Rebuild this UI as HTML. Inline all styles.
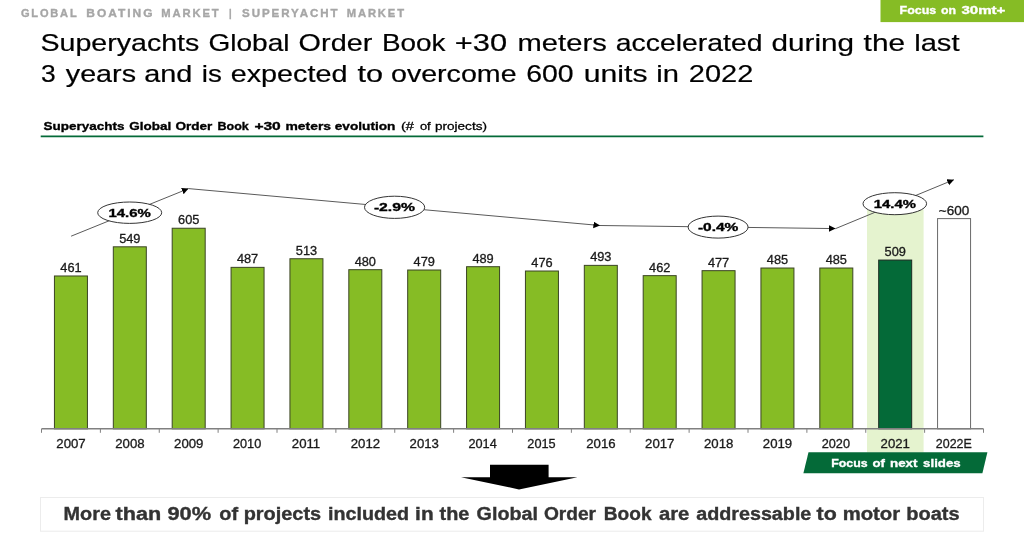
<!DOCTYPE html>
<html><head><meta charset="utf-8">
<style>
html,body{margin:0;padding:0;background:#fff;}
body{width:1024px;height:546px;overflow:hidden;position:relative;font-family:"Liberation Sans",sans-serif;}
svg{position:absolute;left:0;top:0;will-change:transform;}
text{font-family:"Liberation Sans",sans-serif;}
</style></head>
<body>
<svg width="1024" height="546" viewBox="0 0 1024 546">
<defs>
<marker id="ah" markerWidth="8" markerHeight="8" refX="6.6" refY="3.3" orient="auto" markerUnits="userSpaceOnUse">
<path d="M0,0 L6.6,3.3 L0,6.6 z" fill="#000"/>
</marker>
</defs>
<rect x="867" y="209.5" width="56.6" height="243.00" fill="#E5F3CF"/>
<rect x="54.44" y="275.98" width="33" height="152.82" fill="#86BC25" stroke="#3b4425" stroke-width="1"/>
<rect x="113.31" y="246.81" width="33" height="181.99" fill="#86BC25" stroke="#3b4425" stroke-width="1"/>
<rect x="172.19" y="228.24" width="33" height="200.56" fill="#86BC25" stroke="#3b4425" stroke-width="1"/>
<rect x="231.06" y="267.36" width="33" height="161.44" fill="#86BC25" stroke="#3b4425" stroke-width="1"/>
<rect x="289.94" y="258.74" width="33" height="170.06" fill="#86BC25" stroke="#3b4425" stroke-width="1"/>
<rect x="348.81" y="269.68" width="33" height="159.12" fill="#86BC25" stroke="#3b4425" stroke-width="1"/>
<rect x="407.69" y="270.01" width="33" height="158.79" fill="#86BC25" stroke="#3b4425" stroke-width="1"/>
<rect x="466.56" y="266.70" width="33" height="162.10" fill="#86BC25" stroke="#3b4425" stroke-width="1"/>
<rect x="525.44" y="271.01" width="33" height="157.79" fill="#86BC25" stroke="#3b4425" stroke-width="1"/>
<rect x="584.31" y="265.37" width="33" height="163.43" fill="#86BC25" stroke="#3b4425" stroke-width="1"/>
<rect x="643.19" y="275.65" width="33" height="153.15" fill="#86BC25" stroke="#3b4425" stroke-width="1"/>
<rect x="702.06" y="270.67" width="33" height="158.13" fill="#86BC25" stroke="#3b4425" stroke-width="1"/>
<rect x="760.94" y="268.02" width="33" height="160.78" fill="#86BC25" stroke="#3b4425" stroke-width="1"/>
<rect x="819.81" y="268.02" width="33" height="160.78" fill="#86BC25" stroke="#3b4425" stroke-width="1"/>
<rect x="878.69" y="260.07" width="33" height="168.73" fill="#046A38" stroke="#1c2a20" stroke-width="1"/>
<rect x="937.56" y="218.60" width="33" height="210.20" fill="#FFFFFF" stroke="#6a6a6a" stroke-width="1"/>
<line x1="41.5" y1="428.8" x2="983.5" y2="428.8" stroke="#808080" stroke-width="1.5"/>
<line x1="41.50" y1="428.8" x2="41.50" y2="432.8" stroke="#808080" stroke-width="1"/>
<line x1="100.38" y1="428.8" x2="100.38" y2="432.8" stroke="#808080" stroke-width="1"/>
<line x1="159.25" y1="428.8" x2="159.25" y2="432.8" stroke="#808080" stroke-width="1"/>
<line x1="218.12" y1="428.8" x2="218.12" y2="432.8" stroke="#808080" stroke-width="1"/>
<line x1="277.00" y1="428.8" x2="277.00" y2="432.8" stroke="#808080" stroke-width="1"/>
<line x1="335.88" y1="428.8" x2="335.88" y2="432.8" stroke="#808080" stroke-width="1"/>
<line x1="394.75" y1="428.8" x2="394.75" y2="432.8" stroke="#808080" stroke-width="1"/>
<line x1="453.62" y1="428.8" x2="453.62" y2="432.8" stroke="#808080" stroke-width="1"/>
<line x1="512.50" y1="428.8" x2="512.50" y2="432.8" stroke="#808080" stroke-width="1"/>
<line x1="571.38" y1="428.8" x2="571.38" y2="432.8" stroke="#808080" stroke-width="1"/>
<line x1="630.25" y1="428.8" x2="630.25" y2="432.8" stroke="#808080" stroke-width="1"/>
<line x1="689.12" y1="428.8" x2="689.12" y2="432.8" stroke="#808080" stroke-width="1"/>
<line x1="748.00" y1="428.8" x2="748.00" y2="432.8" stroke="#808080" stroke-width="1"/>
<line x1="806.88" y1="428.8" x2="806.88" y2="432.8" stroke="#808080" stroke-width="1"/>
<line x1="865.75" y1="428.8" x2="865.75" y2="432.8" stroke="#808080" stroke-width="1"/>
<line x1="924.62" y1="428.8" x2="924.62" y2="432.8" stroke="#808080" stroke-width="1"/>
<line x1="983.50" y1="428.8" x2="983.50" y2="432.8" stroke="#808080" stroke-width="1"/>
<line x1="71.1" y1="236.2" x2="188.5" y2="188.6" stroke="#5a5a5a" stroke-width="1" marker-end="url(#ah)"/>
<line x1="188.5" y1="188.6" x2="600" y2="225.5" stroke="#5a5a5a" stroke-width="1" marker-end="url(#ah)"/>
<line x1="600" y1="225.5" x2="835.6" y2="228.6" stroke="#5a5a5a" stroke-width="1" marker-end="url(#ah)"/>
<line x1="835.6" y1="228.6" x2="953.9" y2="179.7" stroke="#5a5a5a" stroke-width="1" marker-end="url(#ah)"/>
<ellipse cx="129.7" cy="212.7" rx="32" ry="10.7" fill="#fff" stroke="#333" stroke-width="1"/>
<ellipse cx="394.6" cy="207.3" rx="30.1" ry="11.1" fill="#fff" stroke="#333" stroke-width="1"/>
<ellipse cx="718.1" cy="227.1" rx="30" ry="11" fill="#fff" stroke="#333" stroke-width="1"/>
<ellipse cx="894.8" cy="203.7" rx="31.8" ry="11" fill="#fff" stroke="#333" stroke-width="1"/>
<polygon points="808.5,452.2 987.4,452.2 982.4,473.2 803.4,473.2" fill="#046A38"/>
<polygon points="490,464.8 548.6,464.8 548.6,477.3 577.5,477.3 519,489.4 461,477.3 490,477.3" fill="#000"/>
<rect x="880.5" y="0" width="143.5" height="22.1" fill="#86BC25"/>
<line x1="40.7" y1="136.3" x2="983.4" y2="136.3" stroke="#046A38" stroke-width="1.8"/>
<rect x="40.5" y="497.5" width="943" height="33.7" fill="#fff" stroke="#ececec" stroke-width="1"/>
<text x="20.90" y="17.10" font-size="10.8" font-weight="bold" fill="#A6A6A6" stroke="#A6A6A6" stroke-width="0.35" letter-spacing="1.8" textLength="57.62" lengthAdjust="spacingAndGlyphs">GLOBAL</text>
<text x="86.30" y="17.10" font-size="10.8" font-weight="bold" fill="#A6A6A6" stroke="#A6A6A6" stroke-width="0.35" letter-spacing="1.8" textLength="68.16" lengthAdjust="spacingAndGlyphs">BOATING</text>
<text x="161.30" y="17.10" font-size="10.8" font-weight="bold" fill="#A6A6A6" stroke="#A6A6A6" stroke-width="0.35" letter-spacing="1.8" textLength="59.26" lengthAdjust="spacingAndGlyphs">MARKET</text>
<text x="229.10" y="17.10" font-size="10.8" font-weight="bold" fill="#A6A6A6" stroke="#A6A6A6" stroke-width="0.35" letter-spacing="1.8" textLength="4.18" lengthAdjust="spacingAndGlyphs">|</text>
<text x="242.10" y="17.10" font-size="10.8" font-weight="bold" fill="#A6A6A6" stroke="#A6A6A6" stroke-width="0.35" letter-spacing="1.8" textLength="97.34" lengthAdjust="spacingAndGlyphs">SUPERYACHT</text>
<text x="346.70" y="17.10" font-size="10.8" font-weight="bold" fill="#A6A6A6" stroke="#A6A6A6" stroke-width="0.35" letter-spacing="1.8" textLength="59.26" lengthAdjust="spacingAndGlyphs">MARKET</text>
<text x="40.51" y="51.00" font-size="24" font-weight="normal" fill="#000" stroke="#000" stroke-width="0.2" textLength="158.77" lengthAdjust="spacingAndGlyphs">Superyachts</text>
<text x="208.53" y="51.00" font-size="24" font-weight="normal" fill="#000" stroke="#000" stroke-width="0.2" textLength="80.97" lengthAdjust="spacingAndGlyphs">Global</text>
<text x="298.60" y="51.00" font-size="24" font-weight="normal" fill="#000" stroke="#000" stroke-width="0.2" textLength="73.73" lengthAdjust="spacingAndGlyphs">Order</text>
<text x="382.04" y="51.00" font-size="24" font-weight="normal" fill="#000" stroke="#000" stroke-width="0.2" textLength="63.52" lengthAdjust="spacingAndGlyphs">Book</text>
<text x="454.82" y="51.00" font-size="24" font-weight="normal" fill="#000" stroke="#000" stroke-width="0.2" textLength="52.31" lengthAdjust="spacingAndGlyphs">+30</text>
<text x="517.58" y="51.00" font-size="24" font-weight="normal" fill="#000" stroke="#000" stroke-width="0.2" textLength="89.15" lengthAdjust="spacingAndGlyphs">meters</text>
<text x="615.82" y="51.00" font-size="24" font-weight="normal" fill="#000" stroke="#000" stroke-width="0.2" textLength="146.66" lengthAdjust="spacingAndGlyphs">accelerated</text>
<text x="771.56" y="51.00" font-size="24" font-weight="normal" fill="#000" stroke="#000" stroke-width="0.2" textLength="82.46" lengthAdjust="spacingAndGlyphs">during</text>
<text x="863.60" y="51.00" font-size="24" font-weight="normal" fill="#000" stroke="#000" stroke-width="0.2" textLength="41.47" lengthAdjust="spacingAndGlyphs">the</text>
<text x="914.19" y="51.00" font-size="24" font-weight="normal" fill="#000" stroke="#000" stroke-width="0.2" textLength="45.34" lengthAdjust="spacingAndGlyphs">last</text>
<text x="40.90" y="82.00" font-size="24" font-weight="normal" fill="#000" stroke="#000" stroke-width="0.2" textLength="14.70" lengthAdjust="spacingAndGlyphs">3</text>
<text x="65.80" y="82.00" font-size="24" font-weight="normal" fill="#000" stroke="#000" stroke-width="0.2" textLength="70.22" lengthAdjust="spacingAndGlyphs">years</text>
<text x="144.20" y="82.00" font-size="24" font-weight="normal" fill="#000" stroke="#000" stroke-width="0.2" textLength="48.16" lengthAdjust="spacingAndGlyphs">and</text>
<text x="201.74" y="82.00" font-size="24" font-weight="normal" fill="#000" stroke="#000" stroke-width="0.2" textLength="20.05" lengthAdjust="spacingAndGlyphs">is</text>
<text x="230.70" y="82.00" font-size="24" font-weight="normal" fill="#000" stroke="#000" stroke-width="0.2" textLength="116.78" lengthAdjust="spacingAndGlyphs">expected</text>
<text x="357.40" y="82.00" font-size="24" font-weight="normal" fill="#000" stroke="#000" stroke-width="0.2" textLength="25.49" lengthAdjust="spacingAndGlyphs">to</text>
<text x="391.01" y="82.00" font-size="24" font-weight="normal" fill="#000" stroke="#000" stroke-width="0.2" textLength="125.54" lengthAdjust="spacingAndGlyphs">overcome</text>
<text x="526.22" y="82.00" font-size="24" font-weight="normal" fill="#000" stroke="#000" stroke-width="0.2" textLength="47.44" lengthAdjust="spacingAndGlyphs">600</text>
<text x="583.74" y="82.00" font-size="24" font-weight="normal" fill="#000" stroke="#000" stroke-width="0.2" textLength="63.74" lengthAdjust="spacingAndGlyphs">units</text>
<text x="656.19" y="82.00" font-size="24" font-weight="normal" fill="#000" stroke="#000" stroke-width="0.2" textLength="22.64" lengthAdjust="spacingAndGlyphs">in</text>
<text x="688.89" y="82.00" font-size="24" font-weight="normal" fill="#000" stroke="#000" stroke-width="0.2" textLength="64.38" lengthAdjust="spacingAndGlyphs">2022</text>
<text x="43.50" y="129.90" font-size="11.5" font-weight="bold" fill="#000" stroke="#000" stroke-width="0.35" textLength="80.94" lengthAdjust="spacingAndGlyphs">Superyachts</text>
<text x="129.30" y="129.90" font-size="11.5" font-weight="bold" fill="#000" stroke="#000" stroke-width="0.35" textLength="41.92" lengthAdjust="spacingAndGlyphs">Global</text>
<text x="175.50" y="129.90" font-size="11.5" font-weight="bold" fill="#000" stroke="#000" stroke-width="0.35" textLength="36.89" lengthAdjust="spacingAndGlyphs">Order</text>
<text x="217.50" y="129.90" font-size="11.5" font-weight="bold" fill="#000" stroke="#000" stroke-width="0.35" textLength="31.33" lengthAdjust="spacingAndGlyphs">Book</text>
<text x="254.40" y="129.90" font-size="11.5" font-weight="bold" fill="#000" stroke="#000" stroke-width="0.35" textLength="26.40" lengthAdjust="spacingAndGlyphs">+30</text>
<text x="285.50" y="129.90" font-size="11.5" font-weight="bold" fill="#000" stroke="#000" stroke-width="0.35" textLength="45.57" lengthAdjust="spacingAndGlyphs">meters</text>
<text x="334.70" y="129.90" font-size="11.5" font-weight="bold" fill="#000" stroke="#000" stroke-width="0.35" textLength="60.75" lengthAdjust="spacingAndGlyphs">evolution</text>
<text x="400.90" y="129.90" font-size="11.5" font-weight="normal" fill="#000" stroke="#000" stroke-width="0.3" textLength="13.00" lengthAdjust="spacingAndGlyphs">(#</text>
<text x="419.90" y="129.90" font-size="11.5" font-weight="normal" fill="#000" stroke="#000" stroke-width="0.3" textLength="10.75" lengthAdjust="spacingAndGlyphs">of</text>
<text x="435.00" y="129.90" font-size="11.5" font-weight="normal" fill="#000" stroke="#000" stroke-width="0.3" textLength="51.93" lengthAdjust="spacingAndGlyphs">projects)</text>
<text x="899.60" y="14.20" font-size="11.5" font-weight="bold" fill="#fff" stroke="#fff" stroke-width="0.35" textLength="36.66" lengthAdjust="spacingAndGlyphs">Focus</text>
<text x="941.10" y="14.20" font-size="11.5" font-weight="bold" fill="#fff" stroke="#fff" stroke-width="0.35" textLength="15.07" lengthAdjust="spacingAndGlyphs">on</text>
<text x="961.40" y="14.20" font-size="11.5" font-weight="bold" fill="#fff" stroke="#fff" stroke-width="0.35" textLength="44.04" lengthAdjust="spacingAndGlyphs">30mt+</text>
<text x="831.20" y="467.30" font-size="11.5" font-weight="bold" fill="#fff" stroke="#fff" stroke-width="0.35" textLength="36.37" lengthAdjust="spacingAndGlyphs">Focus</text>
<text x="872.50" y="467.30" font-size="11.5" font-weight="bold" fill="#fff" stroke="#fff" stroke-width="0.35" textLength="12.44" lengthAdjust="spacingAndGlyphs">of</text>
<text x="890.00" y="467.30" font-size="11.5" font-weight="bold" fill="#fff" stroke="#fff" stroke-width="0.35" textLength="27.50" lengthAdjust="spacingAndGlyphs">next</text>
<text x="923.10" y="467.30" font-size="11.5" font-weight="bold" fill="#fff" stroke="#fff" stroke-width="0.35" textLength="37.60" lengthAdjust="spacingAndGlyphs">slides</text>
<text x="63.60" y="520.30" font-size="18" font-weight="bold" fill="#333" stroke="#333" stroke-width="0.35" textLength="47.32" lengthAdjust="spacingAndGlyphs">More</text>
<text x="115.60" y="520.30" font-size="18" font-weight="bold" fill="#333" stroke="#333" stroke-width="0.35" textLength="45.70" lengthAdjust="spacingAndGlyphs">than</text>
<text x="167.50" y="520.30" font-size="18" font-weight="bold" fill="#333" stroke="#333" stroke-width="0.35" textLength="43.64" lengthAdjust="spacingAndGlyphs">90%</text>
<text x="219.30" y="520.30" font-size="18" font-weight="bold" fill="#333" stroke="#333" stroke-width="0.35" textLength="18.80" lengthAdjust="spacingAndGlyphs">of</text>
<text x="243.69" y="520.30" font-size="18" font-weight="bold" fill="#333" stroke="#333" stroke-width="0.35" textLength="77.44" lengthAdjust="spacingAndGlyphs">projects</text>
<text x="328.01" y="520.30" font-size="18" font-weight="bold" fill="#333" stroke="#333" stroke-width="0.35" textLength="81.01" lengthAdjust="spacingAndGlyphs">included</text>
<text x="415.14" y="520.30" font-size="18" font-weight="bold" fill="#333" stroke="#333" stroke-width="0.35" textLength="18.51" lengthAdjust="spacingAndGlyphs">in</text>
<text x="439.60" y="520.30" font-size="18" font-weight="bold" fill="#333" stroke="#333" stroke-width="0.35" textLength="29.80" lengthAdjust="spacingAndGlyphs">the</text>
<text x="476.60" y="520.30" font-size="18" font-weight="bold" fill="#333" stroke="#333" stroke-width="0.35" textLength="61.41" lengthAdjust="spacingAndGlyphs">Global</text>
<text x="543.90" y="520.30" font-size="18" font-weight="bold" fill="#333" stroke="#333" stroke-width="0.35" textLength="52.13" lengthAdjust="spacingAndGlyphs">Order</text>
<text x="603.84" y="520.30" font-size="18" font-weight="bold" fill="#333" stroke="#333" stroke-width="0.35" textLength="47.66" lengthAdjust="spacingAndGlyphs">Book</text>
<text x="658.90" y="520.30" font-size="18" font-weight="bold" fill="#333" stroke="#333" stroke-width="0.35" textLength="30.44" lengthAdjust="spacingAndGlyphs">are</text>
<text x="696.20" y="520.30" font-size="18" font-weight="bold" fill="#333" stroke="#333" stroke-width="0.35" textLength="115.17" lengthAdjust="spacingAndGlyphs">addressable</text>
<text x="816.60" y="520.30" font-size="18" font-weight="bold" fill="#333" stroke="#333" stroke-width="0.35" textLength="20.20" lengthAdjust="spacingAndGlyphs">to</text>
<text x="842.67" y="520.30" font-size="18" font-weight="bold" fill="#333" stroke="#333" stroke-width="0.35" textLength="57.53" lengthAdjust="spacingAndGlyphs">motor</text>
<text x="906.19" y="520.30" font-size="18" font-weight="bold" fill="#333" stroke="#333" stroke-width="0.35" textLength="53.43" lengthAdjust="spacingAndGlyphs">boats</text>
<text x="108.50" y="216.90" font-size="11.6" font-weight="bold" fill="#000" stroke="#000" stroke-width="0.35" textLength="42.34" lengthAdjust="spacingAndGlyphs">14.6%</text>
<text x="373.90" y="211.40" font-size="11.6" font-weight="bold" fill="#000" stroke="#000" stroke-width="0.35" textLength="41.10" lengthAdjust="spacingAndGlyphs">-2.9%</text>
<text x="697.90" y="231.40" font-size="11.6" font-weight="bold" fill="#000" stroke="#000" stroke-width="0.35" textLength="40.50" lengthAdjust="spacingAndGlyphs">-0.4%</text>
<text x="873.80" y="208.10" font-size="11.6" font-weight="bold" fill="#000" stroke="#000" stroke-width="0.35" textLength="42.04" lengthAdjust="spacingAndGlyphs">14.4%</text>
<text x="60.29" y="272.08" font-size="12" font-weight="normal" fill="#1a1a1a" stroke="#1a1a1a" stroke-width="0.3" textLength="21.33" lengthAdjust="spacingAndGlyphs">461</text>
<text x="119.16" y="242.91" font-size="12" font-weight="normal" fill="#1a1a1a" stroke="#1a1a1a" stroke-width="0.3" textLength="21.33" lengthAdjust="spacingAndGlyphs">549</text>
<text x="178.04" y="224.34" font-size="12" font-weight="normal" fill="#1a1a1a" stroke="#1a1a1a" stroke-width="0.3" textLength="21.33" lengthAdjust="spacingAndGlyphs">605</text>
<text x="236.91" y="263.46" font-size="12" font-weight="normal" fill="#1a1a1a" stroke="#1a1a1a" stroke-width="0.3" textLength="21.33" lengthAdjust="spacingAndGlyphs">487</text>
<text x="295.79" y="254.84" font-size="12" font-weight="normal" fill="#1a1a1a" stroke="#1a1a1a" stroke-width="0.3" textLength="21.33" lengthAdjust="spacingAndGlyphs">513</text>
<text x="354.66" y="265.78" font-size="12" font-weight="normal" fill="#1a1a1a" stroke="#1a1a1a" stroke-width="0.3" textLength="21.33" lengthAdjust="spacingAndGlyphs">480</text>
<text x="413.54" y="266.11" font-size="12" font-weight="normal" fill="#1a1a1a" stroke="#1a1a1a" stroke-width="0.3" textLength="21.33" lengthAdjust="spacingAndGlyphs">479</text>
<text x="472.41" y="262.80" font-size="12" font-weight="normal" fill="#1a1a1a" stroke="#1a1a1a" stroke-width="0.3" textLength="21.33" lengthAdjust="spacingAndGlyphs">489</text>
<text x="531.29" y="267.11" font-size="12" font-weight="normal" fill="#1a1a1a" stroke="#1a1a1a" stroke-width="0.3" textLength="21.33" lengthAdjust="spacingAndGlyphs">476</text>
<text x="590.16" y="261.47" font-size="12" font-weight="normal" fill="#1a1a1a" stroke="#1a1a1a" stroke-width="0.3" textLength="21.33" lengthAdjust="spacingAndGlyphs">493</text>
<text x="649.04" y="271.75" font-size="12" font-weight="normal" fill="#1a1a1a" stroke="#1a1a1a" stroke-width="0.3" textLength="21.33" lengthAdjust="spacingAndGlyphs">462</text>
<text x="707.91" y="266.77" font-size="12" font-weight="normal" fill="#1a1a1a" stroke="#1a1a1a" stroke-width="0.3" textLength="21.33" lengthAdjust="spacingAndGlyphs">477</text>
<text x="766.79" y="264.12" font-size="12" font-weight="normal" fill="#1a1a1a" stroke="#1a1a1a" stroke-width="0.3" textLength="21.33" lengthAdjust="spacingAndGlyphs">485</text>
<text x="825.66" y="264.12" font-size="12" font-weight="normal" fill="#1a1a1a" stroke="#1a1a1a" stroke-width="0.3" textLength="21.33" lengthAdjust="spacingAndGlyphs">485</text>
<text x="884.54" y="256.17" font-size="12" font-weight="normal" fill="#1a1a1a" stroke="#1a1a1a" stroke-width="0.3" textLength="21.33" lengthAdjust="spacingAndGlyphs">509</text>
<text x="938.80" y="214.90" font-size="12" font-weight="normal" fill="#1a1a1a" stroke="#1a1a1a" stroke-width="0.3" textLength="30.44" lengthAdjust="spacingAndGlyphs">~600</text>
<text x="56.34" y="447.90" font-size="12" font-weight="normal" fill="#1a1a1a" stroke="#1a1a1a" stroke-width="0.3" textLength="29.37" lengthAdjust="spacingAndGlyphs">2007</text>
<text x="115.21" y="447.90" font-size="12" font-weight="normal" fill="#1a1a1a" stroke="#1a1a1a" stroke-width="0.3" textLength="29.37" lengthAdjust="spacingAndGlyphs">2008</text>
<text x="174.09" y="447.90" font-size="12" font-weight="normal" fill="#1a1a1a" stroke="#1a1a1a" stroke-width="0.3" textLength="29.37" lengthAdjust="spacingAndGlyphs">2009</text>
<text x="232.96" y="447.90" font-size="12" font-weight="normal" fill="#1a1a1a" stroke="#1a1a1a" stroke-width="0.3" textLength="28.29" lengthAdjust="spacingAndGlyphs">2010</text>
<text x="291.84" y="447.90" font-size="12" font-weight="normal" fill="#1a1a1a" stroke="#1a1a1a" stroke-width="0.3" textLength="28.39" lengthAdjust="spacingAndGlyphs">2011</text>
<text x="350.71" y="447.90" font-size="12" font-weight="normal" fill="#1a1a1a" stroke="#1a1a1a" stroke-width="0.3" textLength="29.37" lengthAdjust="spacingAndGlyphs">2012</text>
<text x="409.59" y="447.90" font-size="12" font-weight="normal" fill="#1a1a1a" stroke="#1a1a1a" stroke-width="0.3" textLength="29.37" lengthAdjust="spacingAndGlyphs">2013</text>
<text x="468.46" y="447.90" font-size="12" font-weight="normal" fill="#1a1a1a" stroke="#1a1a1a" stroke-width="0.3" textLength="28.29" lengthAdjust="spacingAndGlyphs">2014</text>
<text x="527.34" y="447.90" font-size="12" font-weight="normal" fill="#1a1a1a" stroke="#1a1a1a" stroke-width="0.3" textLength="28.29" lengthAdjust="spacingAndGlyphs">2015</text>
<text x="586.21" y="447.90" font-size="12" font-weight="normal" fill="#1a1a1a" stroke="#1a1a1a" stroke-width="0.3" textLength="29.37" lengthAdjust="spacingAndGlyphs">2016</text>
<text x="645.09" y="447.90" font-size="12" font-weight="normal" fill="#1a1a1a" stroke="#1a1a1a" stroke-width="0.3" textLength="29.37" lengthAdjust="spacingAndGlyphs">2017</text>
<text x="703.96" y="447.90" font-size="12" font-weight="normal" fill="#1a1a1a" stroke="#1a1a1a" stroke-width="0.3" textLength="29.37" lengthAdjust="spacingAndGlyphs">2018</text>
<text x="762.84" y="447.90" font-size="12" font-weight="normal" fill="#1a1a1a" stroke="#1a1a1a" stroke-width="0.3" textLength="29.37" lengthAdjust="spacingAndGlyphs">2019</text>
<text x="821.71" y="447.90" font-size="12" font-weight="normal" fill="#1a1a1a" stroke="#1a1a1a" stroke-width="0.3" textLength="28.29" lengthAdjust="spacingAndGlyphs">2020</text>
<text x="880.59" y="447.90" font-size="12" font-weight="normal" fill="#1a1a1a" stroke="#1a1a1a" stroke-width="0.3" textLength="29.37" lengthAdjust="spacingAndGlyphs">2021</text>
<text x="935.80" y="447.90" font-size="12" font-weight="normal" fill="#1a1a1a" stroke="#1a1a1a" stroke-width="0.3" textLength="35.99" lengthAdjust="spacingAndGlyphs">2022E</text>
</svg>
</body></html>
